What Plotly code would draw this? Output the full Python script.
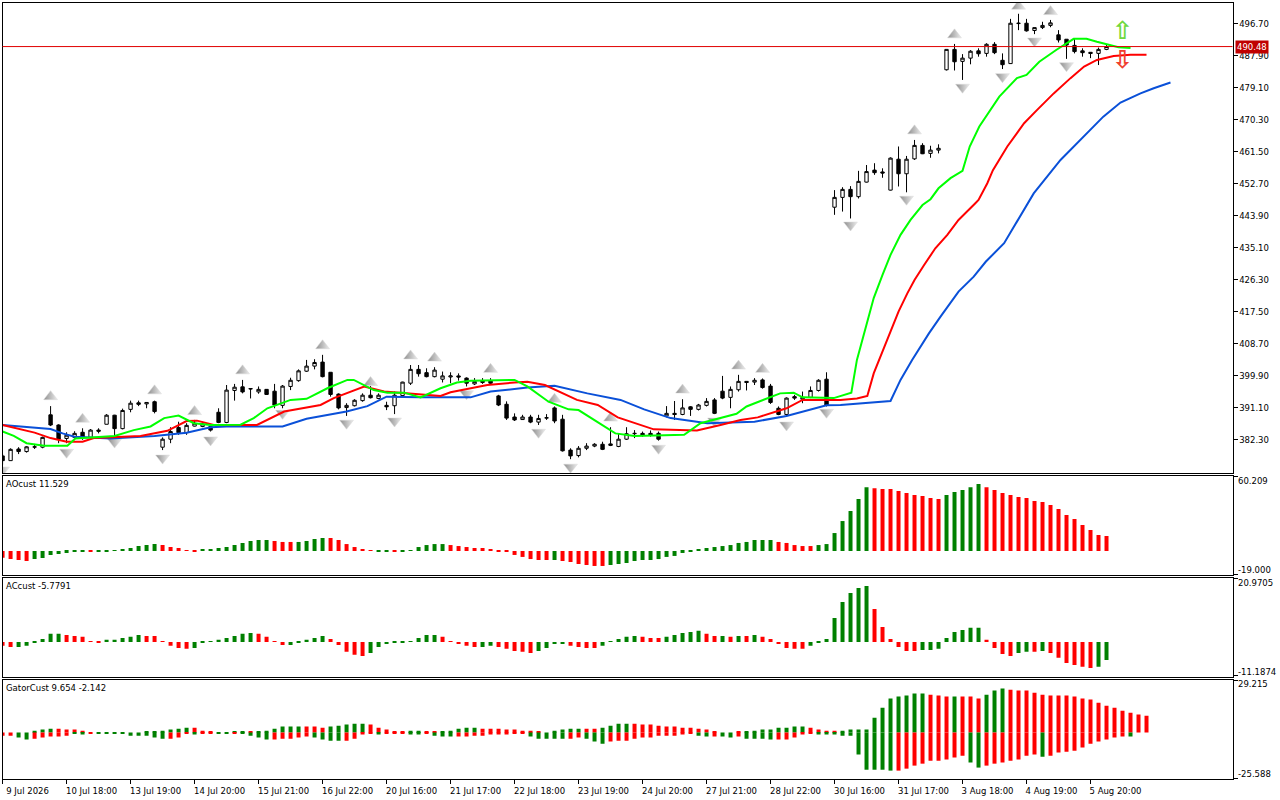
import plotly.graph_objects as go

WIDTH = 1280
HEIGHT = 800
GREEN = "#008000"
RED = "#ff0000"
FONT = "DejaVu Sans"
FONT_SIZE = 8.5

open_ = [
    377.9, 376.6, 379.8, 379.1, 380.3, 380.3, 389.2, 386.4, 382.7, 383.0,
    384.4, 383.0, 385.0, 386.6, 389.1, 385.4, 390.7, 392.5, 392.2, 392.8,
    380.3, 382.5, 385.7, 384.3, 386.1, 386.0, 386.0, 389.9, 387.1, 395.9,
    396.9, 396.3, 395.5, 396.2, 395.7, 391.8, 397.0, 398.6, 401.2, 402.6,
    403.7, 400.9, 394.9, 391.2, 391.7, 393.1, 394.6, 393.7, 391.8, 391.7,
    394.5, 397.9, 401.7, 400.8, 399.7, 399.0, 399.6, 399.9, 399.3, 397.7,
    398.6, 398.6, 394.4, 392.1, 388.6, 387.9, 388.6, 387.2, 388.3, 391.1,
    388.0, 379.5, 378.0, 380.0, 380.6, 381.1, 381.2, 380.5, 382.5, 384.0,
    384.1, 384.1, 384.1, 388.9, 389.6, 389.3, 391.4, 390.7, 391.8, 393.3,
    395.7, 394.0, 396.1, 398.4, 398.2, 398.8, 397.1, 391.0, 389.3, 394.2,
    393.5, 394.0, 395.9, 399.0, 446.3, 449.0, 451.2, 449.2, 453.2, 456.5,
    456.0, 451.0, 459.5, 455.5, 459.6, 463.3, 461.1, 462.0, 484.1, 489.7,
    486.4, 487.3, 489.3, 488.6, 491.1, 486.7, 485.8, 496.8, 496.9, 494.9,
    495.7, 496.3, 493.7, 492.5, 490.8, 489.3, 488.9, 488.6, 489.7,
]
high = [
    378.5, 380.0, 380.3, 380.6, 381.2, 383.2, 391.6, 386.6, 384.4, 384.7,
    385.5, 385.3, 385.5, 389.4, 389.2, 390.9, 393.1, 393.1, 392.6, 393.1,
    383.0, 385.8, 387.3, 386.9, 387.8, 387.3, 386.4, 391.0, 397.4, 397.7,
    398.8, 396.4, 397.0, 396.3, 397.7, 397.4, 399.4, 401.7, 404.3, 404.5,
    405.7, 400.9, 395.1, 392.4, 393.5, 395.1, 397.1, 395.1, 392.8, 395.6,
    398.3, 402.9, 402.9, 402.0, 402.3, 401.1, 400.9, 400.6, 399.5, 399.3,
    399.3, 399.3, 394.7, 392.9, 389.6, 389.2, 389.2, 389.2, 389.4, 391.5,
    389.2, 380.0, 380.6, 381.4, 381.4, 381.8, 385.8, 384.1, 385.8, 385.0,
    384.6, 384.9, 384.6, 391.6, 393.0, 393.5, 391.6, 392.2, 393.8, 393.8,
    399.9, 397.0, 400.2, 398.4, 399.3, 399.2, 397.7, 391.5, 394.0, 394.7,
    395.6, 397.0, 399.0, 400.9, 451.0, 451.8, 452.1, 456.3, 457.9, 458.4,
    457.0, 460.0, 463.0, 460.4, 464.8, 463.9, 463.2, 463.6, 489.7, 491.2,
    488.4, 489.5, 490.0, 491.4, 491.7, 488.6, 498.1, 499.5, 498.1, 495.7,
    497.3, 497.8, 495.0, 492.5, 492.5, 490.0, 488.9, 490.2, 490.9,
]
low = [
    375.5, 376.6, 378.4, 378.8, 379.8, 380.0, 386.1, 381.4, 381.4, 382.7,
    382.3, 382.7, 384.1, 386.6, 383.2, 385.2, 389.9, 391.6, 391.0, 389.6,
    379.5, 381.4, 383.7, 383.7, 386.0, 385.8, 384.6, 386.9, 386.9, 393.1,
    395.1, 393.7, 395.0, 394.7, 391.0, 391.0, 396.0, 398.3, 401.0, 401.7,
    399.5, 394.2, 390.7, 388.9, 391.5, 392.8, 393.7, 393.5, 390.5, 389.4,
    394.5, 397.4, 399.7, 399.5, 399.5, 398.1, 397.9, 398.6, 397.0, 397.4,
    397.7, 397.7, 391.6, 387.8, 387.5, 387.8, 386.9, 386.4, 387.8, 386.9,
    379.1, 377.0, 377.5, 379.5, 380.3, 379.5, 380.6, 380.3, 382.3, 382.8,
    383.2, 383.2, 382.1, 388.5, 387.8, 389.1, 388.9, 390.4, 391.5, 389.4,
    393.5, 391.0, 395.6, 395.9, 397.4, 396.4, 392.2, 389.1, 388.7, 393.3,
    392.4, 393.8, 395.6, 391.5, 444.2, 445.1, 443.2, 448.7, 453.1, 455.2,
    454.4, 450.9, 452.0, 450.4, 459.3, 460.9, 459.9, 461.1, 483.9, 483.9,
    481.3, 485.6, 487.7, 487.7, 488.4, 484.3, 485.8, 495.0, 494.6, 493.9,
    495.3, 495.8, 491.6, 487.1, 488.6, 487.7, 487.3, 485.4, 489.5,
]
close = [
    376.6, 379.7, 379.1, 380.4, 380.4, 383.0, 386.4, 382.5, 383.6, 384.1,
    383.0, 385.0, 384.7, 389.1, 385.4, 390.4, 392.4, 392.1, 392.6, 390.1,
    382.5, 384.6, 384.3, 386.3, 386.9, 386.7, 385.0, 387.1, 396.0, 396.8,
    395.5, 396.4, 396.2, 394.8, 391.9, 397.1, 398.7, 401.3, 402.6, 403.6,
    399.7, 394.8, 391.1, 391.8, 393.2, 394.6, 393.9, 394.6, 391.4, 394.6,
    398.2, 401.7, 400.5, 399.7, 401.5, 399.9, 399.9, 399.6, 397.9, 398.4,
    398.1, 397.9, 391.9, 388.3, 387.8, 388.6, 387.2, 388.2, 388.4, 387.5,
    379.3, 377.9, 380.0, 380.6, 381.1, 379.7, 380.8, 382.5, 384.0, 384.1,
    383.7, 383.7, 382.5, 389.6, 389.3, 391.1, 390.7, 391.9, 392.9, 389.6,
    393.8, 396.2, 398.4, 398.1, 398.7, 396.7, 392.6, 389.3, 393.8, 393.8,
    394.0, 395.9, 398.7, 391.9, 449.0, 451.2, 449.2, 453.4, 456.1, 455.8,
    455.7, 459.8, 455.5, 459.5, 463.3, 461.0, 462.0, 462.5, 489.7, 486.3,
    487.3, 489.2, 488.5, 491.1, 488.8, 485.5, 496.9, 496.9, 494.8, 495.7,
    496.3, 497.0, 492.3, 490.9, 489.1, 488.8, 488.6, 489.7, 490.5,
]

# alligator lines, read at the bars where they bend
blue_x = [0, 6, 7.5, 9, 13.5, 19, 23, 26, 28, 35, 38, 43, 45.6, 48, 52.25, 58.5, 61, 65.6, 69,
          73.1, 77.25, 80.2, 83.5, 88.1, 94, 98, 103, 104.75, 111, 112.25, 113.7, 115.8, 117.25,
          119.5, 121.4, 122.9, 125.2, 127.25, 128.9, 132.25, 133.9, 137.6, 139.75, 142.25, 143.9, 146]
blue_y = [386.4, 385.3, 384.1, 383.2, 382.7, 383.4, 384.3, 385.8, 386.0, 386.0, 388.1, 390.1, 391.6,
          394.2, 394.0, 394.0, 395.6, 396.7, 397.2, 395.1, 393.3, 390.7, 388.3, 386.9, 387.3,
          388.9, 391.8, 391.9, 393.0, 398.8, 404.3, 411.6, 416.2, 423.1, 427.2, 431.3, 436.4,
          444.2, 450.1, 459.3, 463.0, 471.2, 475.1, 477.6, 479.0, 480.6]
red_x = [0, 4, 6, 8, 10, 11.4, 17.25, 20.6, 23, 24.3, 26.4, 31.8, 35.2, 39.75, 41.4, 45.2, 47.7,
         52.25, 54.75, 56, 60.6, 64, 65.6, 67.8, 71.8, 74.4, 76.9, 81.4, 86.8, 89.75, 92.25, 94.4,
         98, 100, 104.75, 106.8, 108.1, 108.9, 110, 111, 112, 113.1, 114, 115.2, 116.6, 118.1,
         119.5, 121.6, 122, 123.1, 123.8, 125.6, 127.7, 129.3, 131.4, 133.5, 135.2, 136.8, 138.9,
         141, 143]
red_y = [386.4, 384.3, 382.8, 381.8, 381.8, 382.8, 383.4, 384.8, 387.5, 387.6, 386.4, 386.4, 390.1,
         391.9, 393.8, 397.0, 395.6, 394.7, 394.4, 395.4, 397.4, 398.1, 398.3, 397.4, 393.3,
         391.9, 388.5, 385.2, 384.9, 386.4, 387.8, 388.5, 391.0, 393.3, 393.3, 393.7, 394.4,
         400.6, 406.6, 412.1, 417.6, 422.6, 426.3, 430.4, 435.0, 438.7, 442.8, 447.4, 448.3,
         452.9, 456.5, 463.0, 469.4, 473.0, 477.6, 481.8, 485.0, 486.8, 487.9, 488.2, 488.2]
green_x = [0, 1.4, 3, 5.2, 8.1, 9.1, 14, 16.4, 18.5, 20.2, 22, 23.9, 26, 29.75, 31.4, 33.1, 36, 38,
           40.6, 43.1, 43.9, 46.4, 48.1, 50.2, 52.25, 54.75, 56.8, 58.5, 64, 65.6, 68.25, 70.75,
           72, 73.6, 76.6, 79, 85.2, 87.25, 89.75, 91.75, 93, 97.2, 98.9, 100, 103.9, 104.75,
           106.1, 106.8, 107.9, 108.9, 110, 111, 112.25, 113.5, 115, 116, 117, 118.5, 120, 120.9,
           122.1, 124.6, 126.8, 128, 129.6, 131.75, 133.9, 135.5, 136.8, 139.5, 141]
green_y = [384.6, 383.4, 381.4, 380.7, 380.7, 382.7, 383.4, 385.0, 386.0, 388.3, 389.0, 386.9, 386.4,
           386.5, 388.3, 391.0, 393.3, 393.6, 396.5, 398.8, 398.8, 396.0, 395.3, 395.3, 394.0,
           396.5, 398.1, 398.6, 398.8, 397.0, 392.8, 390.7, 390.5, 388.3, 384.1, 383.4, 383.7,
           386.9, 388.4, 389.5, 391.5, 395.1, 395.3, 394.0, 393.8, 394.4, 395.3, 404.3, 413.5,
           421.3, 427.7, 433.2, 438.7, 442.8, 446.9, 448.5, 451.5, 454.3, 456.3, 463.0, 468.5,
           476.7, 481.8, 482.7, 486.3, 489.6, 492.6, 492.6, 491.8, 490.3, 490.1]

fractal_up_x = [6, 10, 19, 24, 30, 40, 46, 51, 54, 61, 69, 76, 85, 92, 95, 114, 119, 127, 131]
fractal_up_y = [394.2, 388.0, 395.8, 390.1, 401.3, 408.2, 398.1, 405.4, 404.8, 401.7, 393.5, 388.3,
                396.0, 402.6, 401.7, 467.3, 493.7, 501.6, 500.1]
fractal_down_x = [0, 8, 14, 20, 26, 35, 43, 49, 58, 67, 71, 82, 89, 98, 103, 106, 113, 120, 125, 129, 133]
fractal_down_y = [374.0, 378.9, 381.7, 377.3, 382.3, 389.6, 386.9, 387.5, 395.0, 384.4, 374.8, 380.0,
                  387.5, 386.4, 389.9, 441.4, 448.5, 479.3, 482.2, 492.0, 485.2]

ao_values = [
    -5.4, -6.5, -7.3, -8.1, -6.5, -5.6, -3.2, -2.4, -1.6, -0.8,
    -0.8, -0.8, -0.8, -0.8, 0.8, 1.6, 2.4, 4.0, 4.8, 5.6,
    4.8, 3.2, 2.4, 0.8, -0.8, 1.6, 1.6, 2.4, 3.2, 4.8,
    6.5, 8.1, 8.9, 8.9, 8.1, 7.3, 7.3, 7.3, 8.1, 9.7,
    10.5, 10.5, 8.9, 5.6, 3.2, 1.6, 0.8, -0.8, -0.8, -0.8,
    -0.8, 0.8, 3.2, 4.8, 5.6, 5.6, 4.8, 4.0, 3.2, 2.4,
    2.4, 1.6, -0.8, -0.8, -3.2, -4.8, -6.5, -7.3, -7.3, -7.3,
    -8.1, -8.9, -10.5, -11.3, -12.1, -12.1, -11.3, -10.5, -9.7, -8.1,
    -7.3, -7.3, -6.5, -4.8, -4.0, -1.6, -0.8, 1.6, 2.4, 3.2,
    4.0, 4.8, 6.5, 7.3, 8.9, 8.9, 8.9, 7.3, 6.5, 4.8,
    4.0, 4.0, 4.8, 5.6, 14.5, 24.2, 32.3, 42.0, 51.6, 50.8,
    50.0, 50.0, 48.4, 46.8, 45.2, 44.4, 42.8, 42.0, 45.2, 47.6,
    49.2, 51.6, 54.1, 51.6, 49.2, 46.8, 45.2, 43.6, 42.8, 40.4,
    39.5, 37.1, 33.9, 29.1, 25.8, 21.0, 16.9, 12.9, 12.1,
]
ao_flags = (
    "rrrrgggggg" "grgggggggg" "rrrrrggggg" "ggggrrrggg" "grrrrrrggr" "ggggggrrrr" "rrrrrrrrrg"
    "rrrrrrgggg" "gggggggggg" "gggggggrrr" "rrgggggggr" "rrrrrrrrgg" "gggrrrrrrr" "rrrrrrrrr"
)

ac_values = [
    -1.3, -1.7, -1.7, -1.3, -0.3, 1.0, 2.7, 2.7, 2.3, 2.0,
    1.7, 0.3, -0.3, 0.7, 0.7, 1.3, 1.7, 2.3, 2.0, 2.0,
    0.3, -1.3, -2.0, -2.3, -2.0, -0.3, 0.3, 0.7, 1.3, 2.0,
    2.7, 3.0, 2.7, 1.7, 0.3, -1.0, -1.0, -0.3, 0.7, 1.3,
    2.0, 1.0, -1.0, -3.3, -4.3, -4.7, -3.7, -1.7, -0.7, -0.3,
    -0.3, 0.3, 1.3, 2.3, 2.3, 1.7, 0.3, -0.7, -1.3, -1.7,
    -1.7, -1.3, -1.7, -2.3, -3.0, -3.3, -3.7, -3.0, -2.0, -0.7,
    -0.7, -1.3, -1.7, -2.0, -2.0, -1.3, 0.3, 1.0, 1.7, 2.0,
    1.7, 1.3, 1.3, 1.7, 2.3, 3.0, 3.3, 3.7, 2.7, 2.0,
    2.0, 1.7, 2.0, 2.0, 2.3, 1.7, 1.0, -0.7, -2.0, -2.3,
    -2.3, -1.3, -0.3, 1.0, 8.0, 13.3, 16.3, 18.0, 18.6, 11.0,
    5.0, 1.0, -1.7, -3.0, -3.0, -2.7, -2.7, -2.3, 1.3, 3.3,
    4.0, 4.7, 4.7, 0.7, -2.0, -4.0, -4.7, -3.7, -3.3, -3.3,
    -3.0, -3.7, -5.3, -7.0, -7.7, -8.3, -8.7, -8.3, -6.0,
]
ac_flags = (
    "rrggggggrr" "rrrgggggrr" "rrrrgggggg" "ggrrrrgggg" "grrrrrgggg" "gggggrrrrr" "ggrrrrrggg"
    "grrrrggggg" "rrrgggggrr" "grgrgrrrrr" "rggggggggr" "rrrrrggggg" "gggrrrrggr" "grrrrrrgg"
)

gator_up = [
    0, 0, 0, 0, 1.1, 1.7, 2.2, 2.2, 1.7, 1.7,
    1.1, 0, 0, 0, 0, 0, 0, 0, 0.6, 0.6,
    1.1, 1.7, 2.2, 2.8, 2.8, 1.1, 0.6, 0, 0, 0.6,
    0.6, 0.6, 0.6, 1.1, 2.2, 3.4, 3.4, 3.4, 3.4, 3.4,
    2.8, 3.4, 3.9, 4.5, 5.0, 5.0, 4.5, 2.8, 1.7, 0.6,
    0.6, 1.1, 1.1, 0.6, 0.6, 0.6, 1.1, 2.2, 2.8, 2.8,
    2.2, 2.2, 2.2, 1.7, 1.7, 1.1, 1.1, 0.6, 0, 1.1,
    1.7, 2.2, 2.2, 2.2, 2.2, 2.8, 3.9, 5.0, 5.0, 5.0,
    4.5, 4.5, 3.9, 3.4, 3.4, 2.8, 2.8, 2.2, 1.7, 0.6,
    0, 0, 0.6, 0.6, 1.1, 1.7, 1.7, 2.8, 2.8, 3.4,
    3.4, 2.8, 1.7, 1.1, 1.1, 1.1, 1.7, 1.7, 1.7, 8.4,
    14.0, 19.1, 20.2, 20.8, 21.9, 21.9, 21.3, 20.8, 20.2, 20.2,
    20.2, 20.2, 19.1, 21.3, 23.6, 24.7, 24.1, 23.6, 23.6, 22.4,
    21.3, 20.8, 20.8, 20.8, 20.2, 19.1, 18.5, 16.8, 15.1, 14.0,
    12.3, 11.2, 10.1, 9.5,
]
gator_down = [
    -1.7, -1.7, -2.8, -3.9, -3.4, -2.8, -2.2, -2.2, -1.7, -0.6,
    -1.1, -0.5, -0.5, -0.5, -0.5, -0.5, -1.7, -1.7, -1.7, -2.8,
    -3.4, -3.4, -2.8, -0.6, -1.1, -0.6, -0.6, -0.5, -0.5, -0.6,
    -0.6, -1.7, -2.8, -3.9, -3.9, -3.4, -3.4, -2.8, -2.2, -2.8,
    -3.9, -4.5, -4.5, -4.5, -3.4, -1.1, -0.6, -1.1, -0.6, -0.6,
    -0.6, -1.1, -1.1, -0.6, -1.7, -2.2, -2.2, -2.2, -2.2, -1.7,
    -1.7, -1.1, -1.1, -1.1, -0.6, -0.6, -2.2, -3.4, -3.4, -3.4,
    -3.4, -3.4, -2.8, -3.4, -5.0, -6.2, -5.0, -4.5, -4.5, -3.4,
    -2.8, -2.8, -1.7, -1.7, -1.7, -1.1, -0.6, -1.7, -2.2, -2.2,
    -2.2, -2.8, -2.2, -3.4, -3.4, -3.4, -3.9, -3.9, -3.9, -2.8,
    -1.1, -0.6, -1.1, -1.1, -1.1, -1.7, -1.7, -12.3, -20.8, -20.8,
    -20.8, -21.3, -21.3, -20.2, -18.5, -17.4, -15.7, -15.7, -15.1, -14.0,
    -12.9, -16.8, -19.6, -18.5, -17.4, -16.8, -15.7, -15.1, -12.9, -12.3,
    -13.5, -12.9, -11.2, -10.7, -10.1, -8.4, -6.2, -5.0, -3.9, -2.8,
    -2.2, -2.2, 0, 0,
]
gator_up_flags = (
    "rrgggggrrr" "rrgggggggg" "ggggrrrggg" "grggggggrr" "rgggggrrrr" "rggrrggggg" "rrrrrrrrgg"
    "gggrrggggr" "rrrrrrrrrr" "ggrggggggg" "grrrrggggg" "ggggggrrrg" "rrrgggrrrr" "rrrrrrrrrr" "rrrr"
)
gator_down_flags = (
    "rrggrrrrrg" "grgggggggg" "grrrgrrggr" "ggggrrrrrg" "gggrrrrgrr" "rggrgggrrr" "rrrrrrgggg"
    "grrgggrrrr" "rrrrrrrggr" "ggrggggrrr" "rrgggggggg" "ggrrrrrrrr" "rggrrrrrrr" "grrrrrrrrr" "rgrr"
)

price_ticks = [496.70, 487.90, 479.10, 470.30, 461.50, 452.70, 443.90, 435.10,
               426.30, 417.50, 408.70, 399.90, 391.10, 382.30]
time_ticks = list(range(0, 137, 8))
time_labels = ["9 Jul 2026", "10 Jul 18:00", "13 Jul 19:00", "14 Jul 20:00", "15 Jul 21:00", "16 Jul 22:00",
               "20 Jul 16:00", "21 Jul 17:00", "22 Jul 18:00", "23 Jul 19:00", "24 Jul 20:00", "27 Jul 21:00",
               "28 Jul 22:00", "30 Jul 16:00", "31 Jul 17:00", "3 Aug 18:00", "4 Aug 19:00", "5 Aug 20:00"]
last_price = 490.48

X_RANGE = [-0.01, 153.75]
LEFT, RIGHT = 2.5 / WIDTH, 1232.5 / WIDTH


def y_domain(top, bottom):
    return [1 - bottom / HEIGHT, 1 - top / HEIGHT]


def flag_colors(flags):
    return [GREEN if f == "g" else RED for f in flags]


def hist(values, flags, xaxis, yaxis):
    return go.Bar(
        x=list(range(len(values))),
        y=values,
        width=0.5,
        marker_color=flag_colors(flags),
        marker_line_width=0,
        xaxis=xaxis,
        yaxis=yaxis,
    )


def line(x, y, color):
    return go.Scatter(x=x, y=y, mode="lines", line=dict(color=color, width=2), xaxis="x", yaxis="y")


def fractals(x, y, symbol):
    return go.Scatter(
        x=x,
        y=y,
        mode="markers",
        marker=dict(
            symbol=symbol,
            size=12,
            color="#8e8e8e",
            gradient=dict(type="horizontal", color="#ececec"),
            line=dict(color="#d8d8d8", width=0.5),
        ),
        xaxis="x",
        yaxis="y",
    )


def arrow(x, y, glyph, color):
    return go.Scatter(
        x=[x],
        y=[y],
        mode="text",
        text=[glyph],
        textposition="middle center",
        textfont=dict(family="DejaVu Sans", size=25, color=color, weight="bold"),
        xaxis="x",
        yaxis="y",
    )


fig = go.Figure()
fig.add_trace(
    go.Candlestick(
        x=list(range(len(open_))),
        open=open_,
        high=high,
        low=low,
        close=close,
        whiskerwidth=0,
        increasing=dict(line=dict(color="black", width=1), fillcolor="white"),
        decreasing=dict(line=dict(color="black", width=1), fillcolor="black"),
        xaxis="x",
        yaxis="y",
    )
)
fig.add_trace(fractals(fractal_up_x, fractal_up_y, "triangle-up"))
fig.add_trace(fractals(fractal_down_x, fractal_down_y, "triangle-down"))
fig.add_trace(line(blue_x, blue_y, "#0a50d8"))
fig.add_trace(line(red_x, red_y, "#ff0000"))
fig.add_trace(line(green_x, green_y, "#00ff00"))
fig.add_trace(arrow(140, 494.3, "⇧", "#70d840"))
fig.add_trace(arrow(140, 486.2, "⇩", "#f04030"))

fig.add_trace(hist(ao_values, ao_flags, "x2", "y2"))
fig.add_trace(hist(ac_values, ac_flags, "x3", "y3"))
fig.add_trace(hist(gator_up, gator_up_flags, "x4", "y4"))
fig.add_trace(hist(gator_down, gator_down_flags, "x4", "y4"))

fig.add_shape(type="line", xref="x domain", yref="y", x0=0, x1=1, y0=last_price, y1=last_price,
              line=dict(color="#e00000", width=1))

axis_font = dict(family=FONT, size=FONT_SIZE, color="black")
frame = dict(showline=True, linecolor="black", linewidth=1, mirror=True, showgrid=False, zeroline=False)
plain_x = dict(range=X_RANGE, domain=[LEFT, RIGHT], showticklabels=False, ticks="", **frame)

fig.update_layout(
    width=WIDTH,
    height=HEIGHT,
    margin=dict(l=0, r=0, t=0, b=0),
    paper_bgcolor="white",
    plot_bgcolor="white",
    showlegend=False,
    barmode="overlay",
    boxgap=0.4,
    hovermode=False,
    font=axis_font,
    xaxis=dict(rangeslider_visible=False, anchor="y", **plain_x),
    xaxis2=dict(anchor="y2", **plain_x),
    xaxis3=dict(anchor="y3", **plain_x),
    xaxis4=dict(
        anchor="y4",
        range=X_RANGE,
        domain=[LEFT, RIGHT],
        tickmode="array",
        tickvals=time_ticks,
        ticktext=time_labels,
        ticks="outside",
        ticklen=4,
        tickcolor="black",
        tickangle=0,
        ticklabelshift=25,
        tickfont=axis_font,
        **frame,
    ),
    yaxis=dict(
        domain=y_domain(2.5, 473),
        range=[373.2, 502.6],
        anchor="x",
        side="right",
        tickmode="array",
        tickvals=price_ticks,
        ticktext=["%.2f" % p for p in price_ticks],
        ticks="outside",
        ticklen=4,
        tickcolor="black",
        tickfont=axis_font,
        **frame,
    ),
    yaxis2=dict(domain=y_domain(476, 575), range=[-19.4, 60.6], anchor="x2", side="right",
                tickmode="array", tickvals=[60.209, -19.0], ticktext=["", ""],
                ticks="outside", ticklen=4, tickcolor="black", **frame),
    yaxis3=dict(domain=y_domain(578, 677), range=[-11.7, 21.3], anchor="x3", side="right",
                tickmode="array", tickvals=[20.9705, -11.1874], ticktext=["", ""],
                ticks="outside", ticklen=4, tickcolor="black", **frame),
    yaxis4=dict(domain=y_domain(680, 779), range=[-26.0, 29.5], anchor="x4", side="right",
                tickmode="array", tickvals=[29.215, -25.588], ticktext=["", ""],
                ticks="outside", ticklen=4, tickcolor="black", **frame),
)


def label(text, px, py, color="black", **kwargs):
    fig.add_annotation(
        text=text, xref="paper", yref="paper", x=px / WIDTH, y=1 - py / HEIGHT,
        xanchor="left", yanchor="middle", showarrow=False,
        font=dict(family=FONT, size=FONT_SIZE, color=color), borderpad=0, **kwargs,
    )


label("AOcust 11.529", 5, 484)
label("ACcust -5.7791", 5, 586)
label("GatorCust 9.654 -2.142", 5, 688)
label("60.209", 1237, 481)
label("-19.000", 1237, 570)
label("20.9705", 1237, 583)
label("-11.1874", 1237, 672)
label("29.215", 1237, 684)
label("-25.588", 1237, 774)
fig.add_annotation(
    text="%.2f" % last_price, xref="paper", yref="y", x=1235 / WIDTH, y=last_price,
    xanchor="left", yanchor="middle", showarrow=False, bgcolor="#c00000", borderpad=1,
    font=dict(family=FONT, size=FONT_SIZE, color="white"),
)

fig.write_html(
    "out.html",
    config={"displayModeBar": False},
    post_script="document.body.style.margin='0';document.body.style.overflow='hidden';",
)
